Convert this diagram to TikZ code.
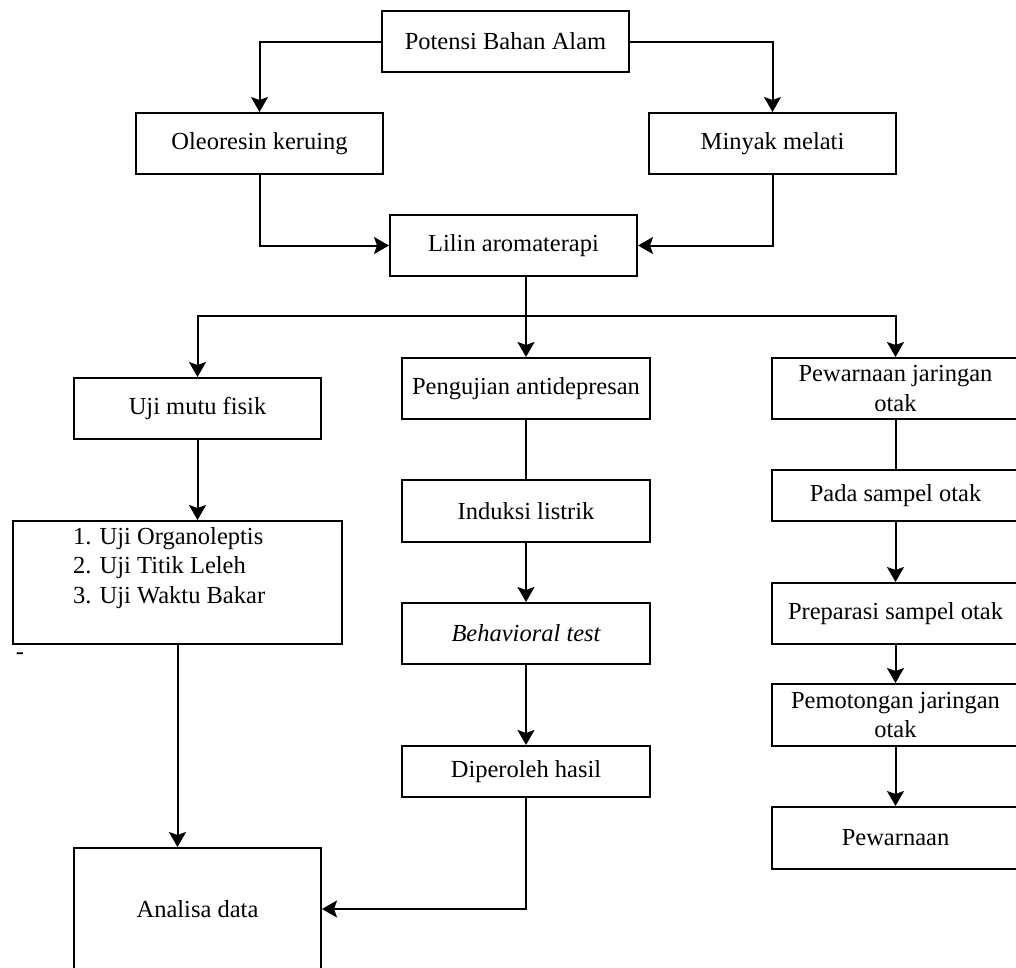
\documentclass[tikz,border=0pt]{standalone}
\usepackage{fontspec}
\setmainfont{Liberation Serif}
\usetikzlibrary{arrows.meta}
\begin{document}
\begin{tikzpicture}[x=1pt,y=-1pt,
  txt/.style={font=\fontsize{24.5pt}{29.5pt}\selectfont, inner sep=0pt},
  box/.style={txt, draw=black, line width=2pt, anchor=north west, align=center},
  conn/.style={draw=black, line width=2pt},
  arr/.style={conn, -{Stealth[length=15pt,width=17pt,inset=3pt]}}]
\useasboundingbox (0,0) rectangle (1016,967);
\clip (0,0) rectangle (1016,967);
% boxes
\node[box, minimum width=247pt, minimum height=61pt] (potensi) at (381,10) {Potensi Bahan Alam};
\node[box, minimum width=247pt, minimum height=61pt] (oleo) at (135,112) {Oleoresin keruing};
\node[box, minimum width=247pt, minimum height=61pt] (minyak) at (648,112) {Minyak melati};
\node[box, minimum width=247pt, minimum height=61pt] (lilin) at (389,214) {Lilin aromaterapi};
\node[box, minimum width=247pt, minimum height=61pt] (ujimutu) at (73,377) {Uji mutu fisik};
\node[box, minimum width=248pt, minimum height=61pt] (pengujian) at (401,357) {Pengujian antidepresan};
\node[box, minimum width=247pt, minimum height=61pt] (pewj) at (771,357) {Pewarnaan jaringan\\otak};
\node[box, minimum width=329pt, minimum height=123pt] (ujilist) at (12,520) {};
\node[txt, anchor=base west, align=left] (ujilisttext) at (73,603) {1. Uji Organoleptis\\2. Uji Titik Leleh\\3. Uji Waktu Bakar};
\node[txt, anchor=base] (dash) at (20,659) {-};
\node[box, minimum width=248pt, minimum height=62pt] (induksi) at (401,479) {Induksi listrik};
\node[box, minimum width=248pt, minimum height=61pt] (behav) at (401,602) {\itshape Behavioral test};
\node[box, minimum width=248pt, minimum height=51pt] (diperoleh) at (401,745) {Diperoleh hasil};
\node[box, minimum width=247pt, minimum height=122pt] (analisa) at (73,847) {Analisa data};
\node[box, minimum width=247pt, minimum height=51pt] (pada) at (771,469) {Pada sampel otak};
\node[box, minimum width=247pt, minimum height=61pt] (prep) at (771,582) {Preparasi sampel otak};
\node[box, minimum width=247pt, minimum height=62pt] (pemot) at (771,683) {Pemotongan jaringan\\otak};
\node[box, minimum width=247pt, minimum height=62pt] (pewarnaan) at (771,806) {Pewarnaan};
% connectors
\coordinate (bus) at (0,316);
\coordinate (split) at (pengujian.north |- bus);
\draw[arr] (potensi.west) -| (oleo.north);
\draw[arr] (potensi.east) -| (minyak.north);
\draw[arr] (oleo.south) |- (lilin.west);
\draw[arr] (minyak.south) |- (lilin.east);
\draw[conn] (split |- lilin.south) -- (split);
\draw[arr] (split) -| (ujimutu.north);
\draw[arr] (split) -- (pengujian.north);
\draw[arr] (split) -| (pewj.north);
\draw[arr] (ujimutu.south) -- (ujilist.north -| ujimutu.south);
\draw[arr] (ujilist.south) -- (ujilist.south |- analisa.north);
\draw[conn] (pengujian.south) -- (induksi.north);
\draw[arr] (induksi.south) -- (behav.north);
\draw[arr] (behav.south) -- (diperoleh.north);
\draw[arr] (diperoleh.south) |- (analisa.east);
\draw[conn] (pewj.south) -- (pada.north);
\draw[arr] (pada.south) -- (prep.north);
\draw[arr] (prep.south) -- (pemot.north);
\draw[arr] (pemot.south) -- (pewarnaan.north);
\end{tikzpicture}
\end{document}
